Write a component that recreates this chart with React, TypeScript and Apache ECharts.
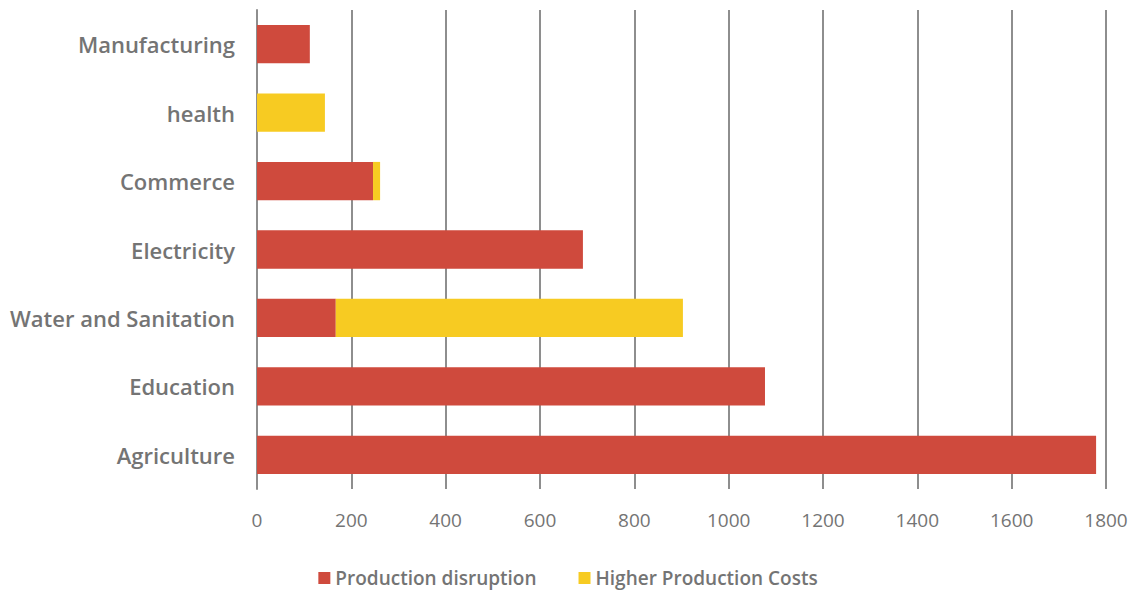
import React, { useEffect, useRef } from "react";
import * as echarts from "echarts";

const categories = [
  "Agriculture",
  "Education",
  "Water and Sanitation",
  "Electricity",
  "Commerce",
  "health",
  "Manufacturing",
];
const productionDisruption = [1779, 1077, 167, 691, 246, 0, 112];
const higherProductionCosts = [0, 0, 736, 0, 15, 144, 0];
const seriesNames = ["Production disruption", "Higher Production Costs"];

const RED = "#CF4A3D";
const YELLOW = "#F7CB22";
const TEXT = "#747474";

export default function App() {
  const ref = useRef<HTMLDivElement>(null);
  useEffect(() => {
    document.body.style.margin = "0";
    if (!ref.current) return;
    const chart = echarts.init(ref.current, undefined, { renderer: "svg" });
    chart.setOption({
      animation: false,
      backgroundColor: "#ffffff",
      grid: { left: 257, right: 30, top: 10, bottom: 101, containLabel: false },
      legend: {
        data: seriesNames,
        top: 566,
        left: "center",
        padding: 0,
        itemWidth: 12,
        itemHeight: 12,
        itemGap: 42,
        icon: "rect",
        textStyle: { color: TEXT, fontFamily: "Open Sans", fontWeight: 600, fontSize: 19, lineHeight: 24 },
      },
      xAxis: {
        type: "value",
        min: 0,
        max: 1800,
        interval: 200,
        axisLine: { show: false },
        axisTick: { show: false },
        splitLine: { show: true, lineStyle: { color: "#8e8e8e", width: 2 } },
        axisLabel: {
          color: TEXT,
          fontFamily: "Open Sans",
          fontSize: 19,
          margin: 21,
          formatter: (v: number) => String(v),
        },
      },
      yAxis: {
        type: "category",
        data: categories,
        axisLine: { show: true, lineStyle: { color: "#8e8e8e", width: 2 } },
        axisTick: { show: false },
        axisLabel: { color: TEXT, fontFamily: "Open Sans", fontWeight: 600, fontSize: 22, margin: 22 },
      },
      series: [
        {
          name: seriesNames[0],
          type: "bar",
          stack: "total",
          data: productionDisruption,
          itemStyle: { color: RED },
          barCategoryGap: "44%",
        },
        {
          name: seriesNames[1],
          type: "bar",
          stack: "total",
          data: higherProductionCosts,
          itemStyle: { color: YELLOW },
          barCategoryGap: "44%",
        },
      ],
    });
    return () => chart.dispose();
  }, []);
  return <div ref={ref} style={{ width: 1136, height: 590 }} />;
}
